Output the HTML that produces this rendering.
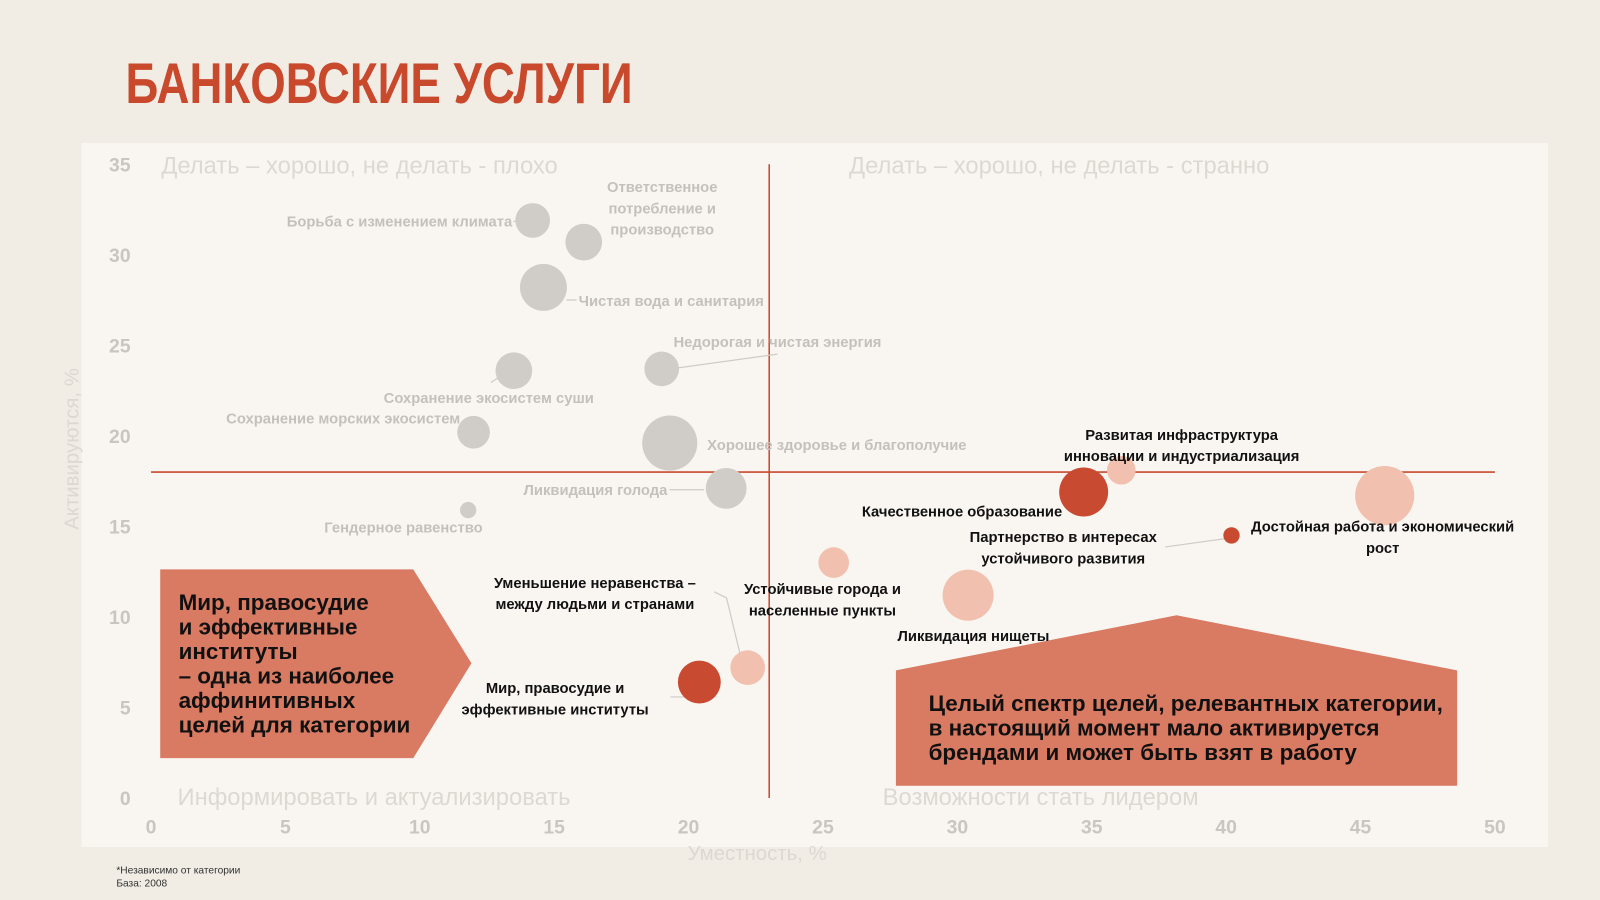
<!DOCTYPE html>
<html><head><meta charset="utf-8">
<style>
html,body{margin:0;padding:0;background:#f1ede5;}
svg{display:block;font-family:"Liberation Sans Narrow","Liberation Sans",sans-serif;}
.tick{fill:#c9c6c1;font-weight:bold;font-size:19px;}
.quad{fill:#dcd8d2;font-size:23.3px;font-family:"Liberation Sans",sans-serif;}
.gl{fill:#c4c1bc;font-weight:bold;font-size:14.5px;}
.dl{fill:#111;font-weight:bold;font-size:14.5px;}
.lead{stroke:#cfcbc6;stroke-width:1.2;fill:none;}
</style></head>
<body>
<svg id="chart" width="1600" height="900" viewBox="0 0 1568 882">
<rect x="0" y="0" width="1568" height="882" fill="#f1ede5"/>
<text x="123" y="101" fill="#c9492d" font-size="56" font-weight="bold" font-family="'Liberation Sans Narrow','Liberation Sans',sans-serif" textLength="497" lengthAdjust="spacingAndGlyphs">БАНКОВСКИЕ УСЛУГИ</text>
<rect x="80" y="140" width="1437" height="690" fill="#f9f6f2"/>
<g id="quads">
<text class="quad" x="158" y="170">Делать – хорошо, не делать - плохо</text>
<text class="quad" x="832" y="170">Делать – хорошо, не делать - странно</text>
<text class="quad" x="174" y="789">Информировать и актуализировать</text>
<text class="quad" x="865" y="789">Возможности стать лидером</text>
</g>
<g id="axes"></g>
<g id="leaders">
<path class="lead" d="M503 217 L506 217"/>
<path class="lead" d="M555 294 L565 294"/>
<path class="lead" d="M661 361 L762 347"/>
<path class="lead" d="M481 375 L490 369"/>
<path class="lead" d="M656 480 L690 480"/>
<path class="lead" d="M657 683 L677 683"/>
<path class="lead" d="M700 580 L712 586 L727 648"/>
<path class="lead" d="M1142 536 L1200 528"/>
</g>
<g id="bubbles"></g>
<polygon points="157,558 405,558 462,650 405,743 157,743" fill="#d97a62"/>
<text x="175" y="598" font-size="22" font-weight="bold" fill="#111">
<tspan x="175" y="598">Мир, правосудие</tspan><tspan x="175" y="622">и эффективные</tspan><tspan x="175" y="646">институты</tspan><tspan x="175" y="670">– одна из наиболее</tspan><tspan x="175" y="694">аффинитивных</tspan><tspan x="175" y="718">целей для категории</tspan></text>
<polygon points="878,657 1153,603 1428,657 1428,770 878,770" fill="#d97a62"/>
<text font-size="22" font-weight="bold" fill="#111"><tspan x="910" y="697">Целый спектр целей, релевантных категории,</tspan><tspan x="910" y="721">в настоящий момент мало активируется</tspan><tspan x="910" y="745">брендами и может быть взят в работу</tspan></text>
<g id="labels"></g>
<text x="742" y="843" text-anchor="middle" class="quad" style="font-size:20px">Уместность, %</text>
<text transform="translate(77,440) rotate(-90)" text-anchor="middle" class="quad" style="font-size:20px">Активируются, %</text>
<text x="114" y="856" font-size="10" fill="#333" font-family="'Liberation Sans',sans-serif">*Независимо от категории</text>
<text x="114" y="869" font-size="10" fill="#333" font-family="'Liberation Sans',sans-serif">База: 2008</text>
</svg>
<script>
const xTicks=[0,5,10,15,20,25,30,35,40,45,50];
const yTicks=[0,5,10,15,20,25,30,35];
const names=["Борьба с изменением климата","Ответственное потребление","Чистая вода и санитария","Недорогая и чистая энергия","Сохранение экосистем суши","Сохранение морских экосистем","Хорошее здоровье","Ликвидация голода","Гендерное равенство","Развитая инфраструктура","Качественное образование","Достойная работа","Партнерство","Устойчивые города","Ликвидация нищеты","Мир, правосудие","Уменьшение неравенства"];
const xVals=[14.2,16.1,14.6,19.0,13.5,12.0,19.3,21.4,11.8,36.1,34.7,45.9,40.2,25.4,30.4,20.4,22.2];
const yVals=[31.9,30.7,28.2,23.7,23.6,20.2,19.6,17.1,15.9,18.1,16.9,16.7,14.5,13.0,11.2,6.4,7.2];
const sizes=[17,18,23,17,18,16,27,20,8,14,24,29,8,15,25,21,17];
const groups=["g","g","g","g","g","g","g","g","g","p","r","p","r","p","p","r","p"];
const xDivider=23, yDivider=18;
const NS="http://www.w3.org/2000/svg";
const X=v=>148+v*(1465-148)/50;
const Y=v=>782-v*(782-161)/35;
function mk(tag,attrs,parent){const e=document.createElementNS(NS,tag);for(const k in attrs)e.setAttribute(k,attrs[k]);parent.appendChild(e);return e;}
const axes=document.getElementById('axes');
xTicks.forEach(t=>{const e=mk('text',{x:X(t),y:817,'text-anchor':'middle',class:'tick'},axes);e.textContent=t;

});
yTicks.forEach(t=>{const e=mk('text',{x:128,y:Y(t)+7,'text-anchor':'end',class:'tick'},axes);e.textContent=t;

});
const vl=mk('line',{x1:X(xDivider),x2:X(xDivider),y1:161,y2:782,stroke:'#c9492d','stroke-width':1.5},axes);


const hl=mk('line',{x1:148,x2:1465,y1:Y(yDivider),y2:Y(yDivider),stroke:'#c9492d','stroke-width':1.5},axes);


const col={g:'#d0cdc9',p:'#f1c0ae',r:'#c84b31'};
const bg=document.getElementById('bubbles');
names.forEach((n,i)=>{const c=mk('circle',{cx:X(xVals[i]),cy:Y(yVals[i]),r:sizes[i],fill:col[groups[i]]},bg);


const t=mk('title',{},c);t.textContent=n;});
const labs=[
["gl","end",502,222,["Борьба с изменением климата"]],
["gl","middle",649,188,["Ответственное","потребление и","производство"]],
["gl","start",567,300,["Чистая вода и санитария"]],
["gl","start",660,340,["Недорогая и чистая энергия"]],
["gl","middle",479,395,["Сохранение экосистем суши"]],
["gl","end",451,415,["Сохранение морских экосистем"]],
["gl","start",693,441,["Хорошее здоровье и благополучие"]],
["gl","end",654,485,["Ликвидация голода"]],
["gl","end",473,522,["Гендерное равенство"]],
["dl","middle",1158,431,["Развитая инфраструктура","инновации и индустриализация"]],
["dl","end",1041,506,["Качественное образование"]],
["dl","middle",1355,521,["Достойная работа и экономический","рост"]],
["dl","middle",1042,531,["Партнерство в интересах","устойчивого развития"]],
["dl","middle",806,582,["Устойчивые города и","населенные пункты"]],
["dl","middle",954,628,["Ликвидация нищеты"]],
["dl","middle",544,679,["Мир, правосудие и","эффективные институты"]],
["dl","middle",583,576,["Уменьшение неравенства –","между людьми и странами"]]];
const lg=document.getElementById('labels');
labs.forEach(l=>{const t=mk('text',{class:l[0],'text-anchor':l[1],x:l[2],y:l[3]},lg);


l[4].forEach((s,j)=>{const sp=mk('tspan',{x:l[2],y:l[3]+j*21},t);sp.textContent=s;});});
</script>
</body></html>
